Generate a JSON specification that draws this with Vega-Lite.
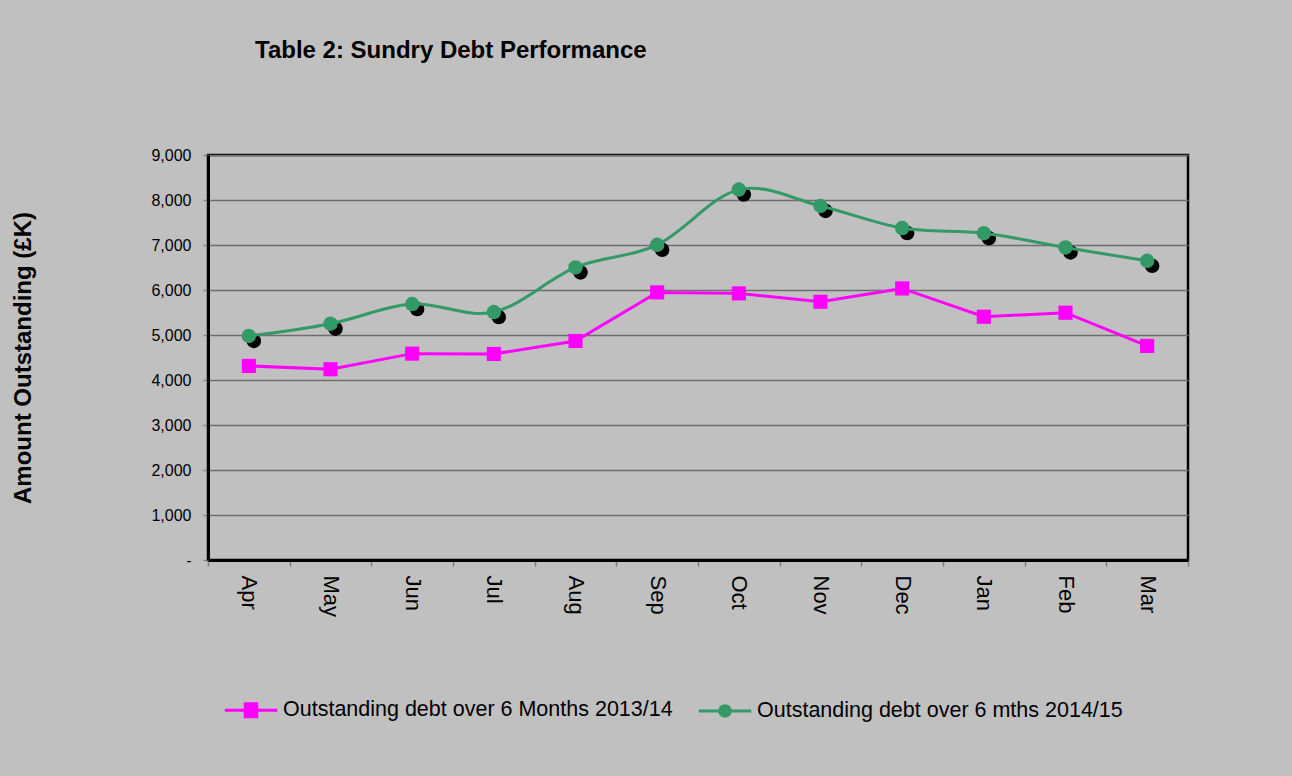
{
  "$schema": "https://vega.github.io/schema/vega-lite/v6.json",
  "width": 980,
  "height": 405,
  "autosize": {"type": "none"},
  "padding": {"left": 208, "top": 155, "right": 104, "bottom": 216},
  "background": "#C0C0C0",
  "title": {
    "text": "Table 2: Sundry Debt Performance",
    "anchor": "start",
    "frame": "group",
    "dx": 47,
    "offset": 65,
    "baseline": "alphabetic",
    "font": "Liberation Sans",
    "fontSize": 24,
    "fontWeight": "bold",
    "color": "black"
  },
  "config": {
    "view": {"stroke": "black", "strokeWidth": 2.5, "fill": "#C0C0C0"},
    "font": "Liberation Sans"
  },
  "data": {
    "values": [
      {"month": "Apr", "series": "Outstanding debt over 6 Months 2013/14", "value": 4313},
      {"month": "May", "series": "Outstanding debt over 6 Months 2013/14", "value": 4239},
      {"month": "Jun", "series": "Outstanding debt over 6 Months 2013/14", "value": 4586},
      {"month": "Jul", "series": "Outstanding debt over 6 Months 2013/14", "value": 4579},
      {"month": "Aug", "series": "Outstanding debt over 6 Months 2013/14", "value": 4867},
      {"month": "Sep", "series": "Outstanding debt over 6 Months 2013/14", "value": 5947},
      {"month": "Oct", "series": "Outstanding debt over 6 Months 2013/14", "value": 5925},
      {"month": "Nov", "series": "Outstanding debt over 6 Months 2013/14", "value": 5738},
      {"month": "Dec", "series": "Outstanding debt over 6 Months 2013/14", "value": 6035},
      {"month": "Jan", "series": "Outstanding debt over 6 Months 2013/14", "value": 5406},
      {"month": "Feb", "series": "Outstanding debt over 6 Months 2013/14", "value": 5495},
      {"month": "Mar", "series": "Outstanding debt over 6 Months 2013/14", "value": 4756},
      {"month": "Apr", "series": "Outstanding debt over 6 mths 2014/15", "value": 4978},
      {"month": "May", "series": "Outstanding debt over 6 mths 2014/15", "value": 5251},
      {"month": "Jun", "series": "Outstanding debt over 6 mths 2014/15", "value": 5687},
      {"month": "Jul", "series": "Outstanding debt over 6 mths 2014/15", "value": 5510},
      {"month": "Aug", "series": "Outstanding debt over 6 mths 2014/15", "value": 6501},
      {"month": "Sep", "series": "Outstanding debt over 6 mths 2014/15", "value": 7005},
      {"month": "Oct", "series": "Outstanding debt over 6 mths 2014/15", "value": 8231},
      {"month": "Nov", "series": "Outstanding debt over 6 mths 2014/15", "value": 7867},
      {"month": "Dec", "series": "Outstanding debt over 6 mths 2014/15", "value": 7376},
      {"month": "Jan", "series": "Outstanding debt over 6 mths 2014/15", "value": 7262},
      {"month": "Feb", "series": "Outstanding debt over 6 mths 2014/15", "value": 6945},
      {"month": "Mar", "series": "Outstanding debt over 6 mths 2014/15", "value": 6648}
    ]
  },
  "encoding": {
    "x": {
      "field": "month",
      "type": "ordinal",
      "sort": ["Apr", "May", "Jun", "Jul", "Aug", "Sep", "Oct", "Nov", "Dec", "Jan", "Feb", "Mar"],
      "scale": {"type": "band", "paddingInner": 0, "paddingOuter": 0},
      "axis": {
        "title": null,
        "labelAngle": 90,
        "labelFont": "Liberation Sans",
        "labelFontSize": 22,
        "labelColor": "black",
        "labelPadding": 9,
        "tickBand": "extent",
        "tickSize": 6,
        "tickColor": "#808080",
        "tickWidth": 1.5,
        "domainColor": "black",
        "domainWidth": 3,
        "grid": false
      }
    },
    "y": {
      "field": "value",
      "type": "quantitative",
      "scale": {"domain": [0, 9000], "nice": false},
      "axis": {
        "title": "Amount Outstanding (£K)",
        "titleFont": "Liberation Sans",
        "titleFontSize": 24,
        "titleFontWeight": "bold",
        "titleColor": "black",
        "titleX": -185,
        "titleAngle": 270,
        "titleAlign": "center",
        "titleBaseline": "middle",
        "values": [0, 1000, 2000, 3000, 4000, 5000, 6000, 7000, 8000, 9000],
        "labelExpr": "datum.value === 0 ? '-' : format(datum.value, ',')",
        "labelFont": "Liberation Sans",
        "labelFontSize": 16,
        "labelColor": "black",
        "labelPadding": 12,
        "tickSize": 5,
        "tickColor": "#808080",
        "tickWidth": 1.5,
        "domainColor": "black",
        "domainWidth": 3,
        "grid": true,
        "gridColor": "#6e6e6e",
        "gridWidth": 1.5
      }
    }
  },
  "layer": [
    {
      "transform": [{"filter": "datum.series === 'Outstanding debt over 6 Months 2013/14'"}],
      "mark": {"type": "line", "strokeWidth": 3},
      "encoding": {
        "color": {
          "field": "series",
          "type": "nominal",
          "scale": {
            "domain": ["Outstanding debt over 6 Months 2013/14", "Outstanding debt over 6 mths 2014/15"],
            "range": ["#FF00FF", "#339966"]
          },
          "legend": {
            "orient": "none",
            "legendX": 15,
            "legendY": 527,
            "direction": "horizontal",
            "title": null,
            "padding": 0,
            "symbolSize": 2750,
            "symbolStrokeWidth": 3,
            "labelFont": "Liberation Sans",
            "labelFontSize": 21.5,
            "labelColor": "black",
            "labelLimit": 0,
            "labelOffset": 4,
            "columnPadding": 19,
            "encode": {
              "symbols": {
                "update": {
                  "shape": {"signal": "datum.value === 'Outstanding debt over 6 Months 2013/14' ? 'M-1,0H1M-0.22,-0.25H0.22V0.25H-0.22Z' : 'M-1,0H1M0.2,0A0.2,0.2,0,1,1,-0.2,0A0.2,0.2,0,1,1,0.2,0Z'"},
                  "fill": {"scale": "color", "field": "value"},
                  "stroke": {"scale": "color", "field": "value"},
                  "fillOpacity": {"value": 1},
                  "strokeOpacity": {"value": 1},
                  "strokeWidth": {"value": 3}
                }
              }
            }
          }
        }
      }
    },
    {
      "transform": [{"filter": "datum.series === 'Outstanding debt over 6 Months 2013/14'"}],
      "mark": {"type": "point", "shape": "square", "filled": true, "size": 200, "opacity": 1},
      "encoding": {"color": {"field": "series", "type": "nominal"}}
    },
    {
      "transform": [{"filter": "datum.series === 'Outstanding debt over 6 mths 2014/15'"}],
      "mark": {"type": "point", "shape": "circle", "filled": true, "size": 210, "opacity": 1, "color": "black", "xOffset": 5, "yOffset": 5}
    },
    {
      "transform": [{"filter": "datum.series === 'Outstanding debt over 6 mths 2014/15'"}],
      "mark": {"type": "line", "strokeWidth": 3, "interpolate": "cardinal"},
      "encoding": {"color": {"field": "series", "type": "nominal"}}
    },
    {
      "transform": [{"filter": "datum.series === 'Outstanding debt over 6 mths 2014/15'"}],
      "mark": {"type": "point", "shape": "circle", "filled": true, "size": 210, "opacity": 1},
      "encoding": {"color": {"field": "series", "type": "nominal"}}
    }
  ]
}
